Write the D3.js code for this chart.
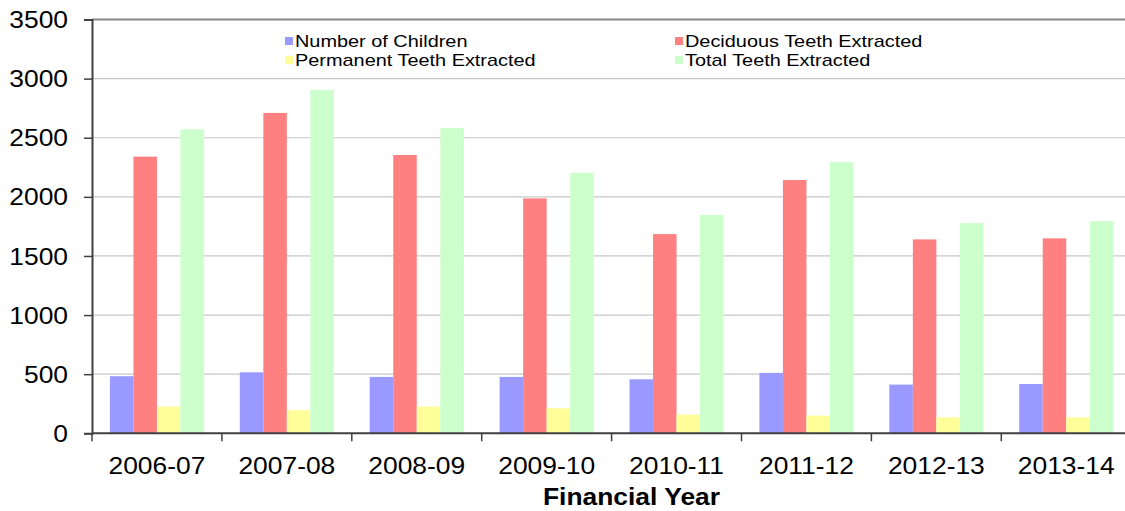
<!DOCTYPE html>
<html>
<head>
<meta charset="utf-8">
<script src="https://cdn.jsdelivr.net/npm/d3@7"></script>
<style>
  html, body { margin: 0; padding: 0; background: #fff; }
  svg { display: block; }
  text { font-family: "Liberation Sans", Arial, sans-serif; fill: #000; }
</style>
</head>
<body>
<svg id="chart" width="1125" height="511"></svg>
<script>
const categories = ["2006-07", "2007-08", "2008-09", "2009-10", "2010-11", "2011-12", "2012-13", "2013-14"];
const seriesNames = ["Number of Children", "Deciduous Teeth Extracted", "Permanent Teeth Extracted", "Total Teeth Extracted"];
const children  = [483, 516, 477, 477, 457, 511, 412, 417];
const deciduous = [2340, 2710, 2354, 1987, 1685, 2142, 1640, 1649];
const permanent = [226, 195, 226, 212, 158, 150, 135, 135];
const total     = [2571, 2905, 2583, 2204, 1846, 2295, 1778, 1795];
const yTicks = [0, 500, 1000, 1500, 2000, 2500, 3000, 3500];
const xTitle = "Financial Year";

(function () {
const colors = ["#9999FF", "#FF8080", "#FFFF99", "#CCFFCC"];
const seriesValues = [children, deciduous, permanent, total];

const svg = d3.select("#chart");
const pLeft = 92, pRight = 1131.2, pTop = 19.5, pBottom = 433.3;
const sx = 1.1; // horizontal text stretch

const x0 = d3.scaleBand().domain(categories).range([pLeft, pRight]).paddingInner(0.276).paddingOuter(0.138);
const x1 = d3.scaleBand().domain(seriesNames).range([0, x0.bandwidth()]).padding(0);
const y = d3.scaleLinear().domain([0, 3500]).range([pBottom, pTop]);

// gridlines
svg.append("g").selectAll("line").data(yTicks.filter(d => d > 0 && d < 3500)).join("line")
  .attr("x1", pLeft).attr("x2", pRight)
  .attr("y1", d => y(d)).attr("y2", d => y(d))
  .attr("stroke", "#c8c8c8").attr("stroke-width", 1.2);

// top border
svg.append("line").attr("x1", pLeft).attr("x2", pRight).attr("y1", y(3500)).attr("y2", y(3500))
  .attr("stroke", "#888").attr("stroke-width", 2);

// bars
const groups = svg.append("g").selectAll("g").data(categories).join("g")
  .attr("transform", d => `translate(${x0(d)},0)`);
groups.selectAll("rect").data((c, i) => seriesNames.map((s, k) => ({ s, k, v: seriesValues[k][i] }))).join("rect")
  .attr("x", d => x1(d.s))
  .attr("width", x1.bandwidth())
  .attr("y", d => y(d.v))
  .attr("height", d => y(0) - y(d.v))
  .attr("fill", d => colors[d.k]);

// y axis
const yAxis = d3.axisLeft(y).tickValues(yTicks).tickSize(8).tickFormat("");
const gy = svg.append("g").attr("transform", `translate(${pLeft},0)`).call(yAxis);
gy.select(".domain").attr("stroke", "#404040").attr("stroke-width", 2);
gy.selectAll(".tick line").attr("stroke", "#404040").attr("stroke-width", 1.5);
svg.append("g").selectAll("text").data(yTicks).join("text")
  .attr("transform", d => `translate(68,${y(d)}) scale(${sx},1)`)
  .attr("dy", "0.36em")
  .attr("text-anchor", "end")
  .style("font-size", "24px")
  .text(d => d);

// x axis
svg.append("line").attr("x1", pLeft).attr("x2", pRight).attr("y1", pBottom).attr("y2", pBottom)
  .attr("stroke", "#404040").attr("stroke-width", 2);
const boundaries = categories.map(c => x0(c) - x0.step() * x0.paddingOuter());
svg.append("g").selectAll("line").data(boundaries).join("line")
  .attr("x1", d => d).attr("x2", d => d)
  .attr("y1", pBottom).attr("y2", pBottom + 8)
  .attr("stroke", "#404040").attr("stroke-width", 1.5);
svg.append("g").selectAll("text").data(categories).join("text")
  .attr("transform", d => `translate(${x0(d) + x0.bandwidth() / 2},474) scale(${sx},1)`)
  .attr("text-anchor", "middle")
  .style("font-size", "24px")
  .text(d => d);

svg.append("text")
  .attr("transform", `translate(631.5,505) scale(${sx},1)`)
  .attr("text-anchor", "middle")
  .style("font-size", "24px").style("font-weight", "bold")
  .text(xTitle);

// legend
const legendPos = [[285, 37], [675, 37], [285, 56], [675, 56]];
const lg = svg.append("g").selectAll("g").data(seriesNames).join("g")
  .attr("transform", (d, i) => `translate(${legendPos[i][0]},${legendPos[i][1]})`);
lg.append("rect").attr("width", 8).attr("height", 8).attr("fill", (d, i) => colors[i]);
lg.append("text")
  .attr("transform", `translate(10,9.5) scale(1.17,1)`)
  .style("font-size", "17px")
  .text(d => d);
})();
</script>
</body>
</html>
